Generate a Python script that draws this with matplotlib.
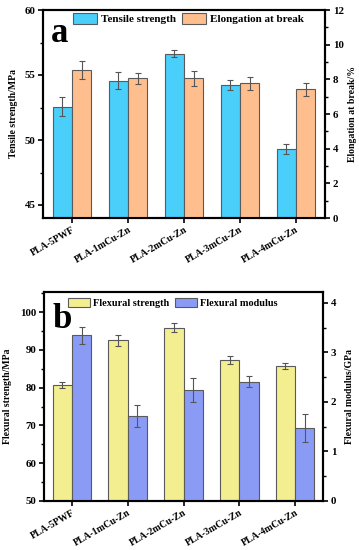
import matplotlib
matplotlib.use("Agg")
import matplotlib.pyplot as plt
import numpy as np
from matplotlib.ticker import MultipleLocator

plt.rcParams['font.family'] = ['Liberation Serif', 'DejaVu Serif']
plt.rcParams['font.weight'] = 'bold'

categories = ["PLA-5PWF", "PLA-1mCu-Zn", "PLA-2mCu-Zn", "PLA-3mCu-Zn", "PLA-4mCu-Zn"]

tensile = [52.55, 54.55, 56.65, 54.2, 49.3]
tensile_err = [0.72, 0.65, 0.26, 0.39, 0.39]
elongation = [8.54, 8.05, 8.05, 7.76, 7.43]
elongation_err = [0.53, 0.31, 0.42, 0.40, 0.38]

flex_strength = [80.7, 92.5, 95.9, 87.3, 85.7]
flex_strength_err = [0.7, 1.37, 1.28, 1.15, 0.9]
flex_modulus = [3.35, 1.71, 2.24, 2.41, 1.47]
flex_modulus_err = [0.17, 0.22, 0.24, 0.115, 0.28]

W, H = 359, 550
fig = plt.figure(figsize=(W/100, H/100), dpi=100)

TICK_FS = 7.8
XTICK_FS = 7.0
LAB_FS = 7.0

def style_axes(ax, axr):
    for a in (ax, axr):
        for s in a.spines.values():
            s.set_linewidth(1.5)
    ax.tick_params(axis='both', which='major', direction='out', length=3.5, width=1.2, labelsize=TICK_FS, pad=2)
    ax.tick_params(axis='x', which='major', labelsize=XTICK_FS, pad=1.5)
    ax.tick_params(axis='y', which='minor', direction='out', length=2, width=1.0)
    ax.tick_params(axis='x', which='minor', bottom=False)
    axr.tick_params(axis='y', which='major', direction='out', length=3.5, width=1.2, labelsize=TICK_FS, pad=2)
    axr.tick_params(axis='y', which='minor', direction='out', length=2, width=1.0)
    for lab in ax.get_yticklabels() + axr.get_yticklabels():
        lab.set_fontweight('bold')

x = np.arange(len(categories))
bw = 0.345
ekw = dict(ecolor='#555555', elinewidth=0.8, capsize=2.5, capthick=0.8)
edge = '#5a5a5a'

# Panel a
ax1 = fig.add_axes([43/W, 1-218/H, (325-43)/W, (218-10)/H])
ax1r = ax1.twinx()
b1 = ax1.bar(x - bw/2, tensile, bw, yerr=tensile_err, color='#4ACFFB', edgecolor=edge, linewidth=0.8, error_kw=ekw, label='Tensile strength')
b2 = ax1r.bar(x + bw/2, elongation, bw, yerr=elongation_err, color='#FEBE8E', edgecolor=edge, linewidth=0.8, error_kw=ekw, label='Elongation at break')
ax1.set_ylim(44, 60)
ax1r.set_ylim(0, 12)
ax1.set_xlim(-0.52, 4.52)
ax1.yaxis.set_major_locator(MultipleLocator(5))
ax1.yaxis.set_minor_locator(MultipleLocator(2.5))
ax1r.yaxis.set_major_locator(MultipleLocator(2))
ax1r.yaxis.set_minor_locator(MultipleLocator(1))
ax1.set_xticks(x)
ax1.set_xticklabels(categories, rotation=30, ha='right', rotation_mode='anchor', fontsize=XTICK_FS, fontweight='bold')
ax1.set_ylabel('Tensile strength/MPa', fontsize=LAB_FS, fontweight='bold')
ax1r.set_ylabel('Elongation at break/%', fontsize=LAB_FS, fontweight='bold')
ax1.yaxis.set_label_coords(-0.089, 0.5)
ax1r.yaxis.set_label_coords(1.082, 0.5)
style_axes(ax1, ax1r)
ax1.text(0.028, 0.846, 'a', transform=ax1.transAxes, fontsize=25, fontweight='bold', va='baseline', ha='left')
ax1.legend([b1, b2], ['Tensile strength', 'Elongation at break'], loc='center left', bbox_to_anchor=(0.105, 0.957), ncol=2, frameon=False,
           handlelength=2.2, handleheight=1.05, columnspacing=0.55, handletextpad=0.35, borderpad=0, borderaxespad=0,
           prop={'weight': 'bold', 'size': 8})

# Panel b
ax2 = fig.add_axes([44/W, 1-501/H, (323-44)/W, (501-292)/H])
ax2r = ax2.twinx()
c1 = ax2.bar(x - bw/2, flex_strength, bw, yerr=flex_strength_err, color='#F3EE90', edgecolor=edge, linewidth=0.8, error_kw=ekw, label='Flexural strength')
c2 = ax2r.bar(x + bw/2, flex_modulus, bw, yerr=flex_modulus_err, color='#8A9BF6', edgecolor=edge, linewidth=0.8, error_kw=ekw, label='Flexural modulus')
ax2.set_ylim(50, 105.3)
ax2r.set_ylim(0, 4.22)
ax2.set_xlim(-0.5, 4.5)
ax2.yaxis.set_major_locator(MultipleLocator(10))
ax2.yaxis.set_minor_locator(MultipleLocator(5))
ax2r.yaxis.set_major_locator(MultipleLocator(1))
ax2r.yaxis.set_minor_locator(MultipleLocator(0.5))
ax2.set_xticks(x)
ax2.set_xticklabels(categories, rotation=30, ha='right', rotation_mode='anchor', fontsize=XTICK_FS, fontweight='bold')
ax2.set_ylabel('Flexural strength/MPa', fontsize=LAB_FS, fontweight='bold')
ax2r.set_ylabel('Flexural modulus/GPa', fontsize=LAB_FS, fontweight='bold')
ax2.yaxis.set_label_coords(-0.115, 0.5)
ax2r.yaxis.set_label_coords(1.079, 0.5)
style_axes(ax2, ax2r)
ax2.text(0.029, 0.828, 'b', transform=ax2.transAxes, fontsize=25, fontweight='bold', va='baseline', ha='left')
ax2.legend([c1, c2], ['Flexural strength', 'Flexural modulus'], loc='center left', bbox_to_anchor=(0.086, 0.947), ncol=2, frameon=False,
           handlelength=2.1, handleheight=1.0, columnspacing=0.55, handletextpad=0.35, borderpad=0, borderaxespad=0,
           prop={'weight': 'bold', 'size': 7.4})

fig.savefig('out.png', dpi=100)
